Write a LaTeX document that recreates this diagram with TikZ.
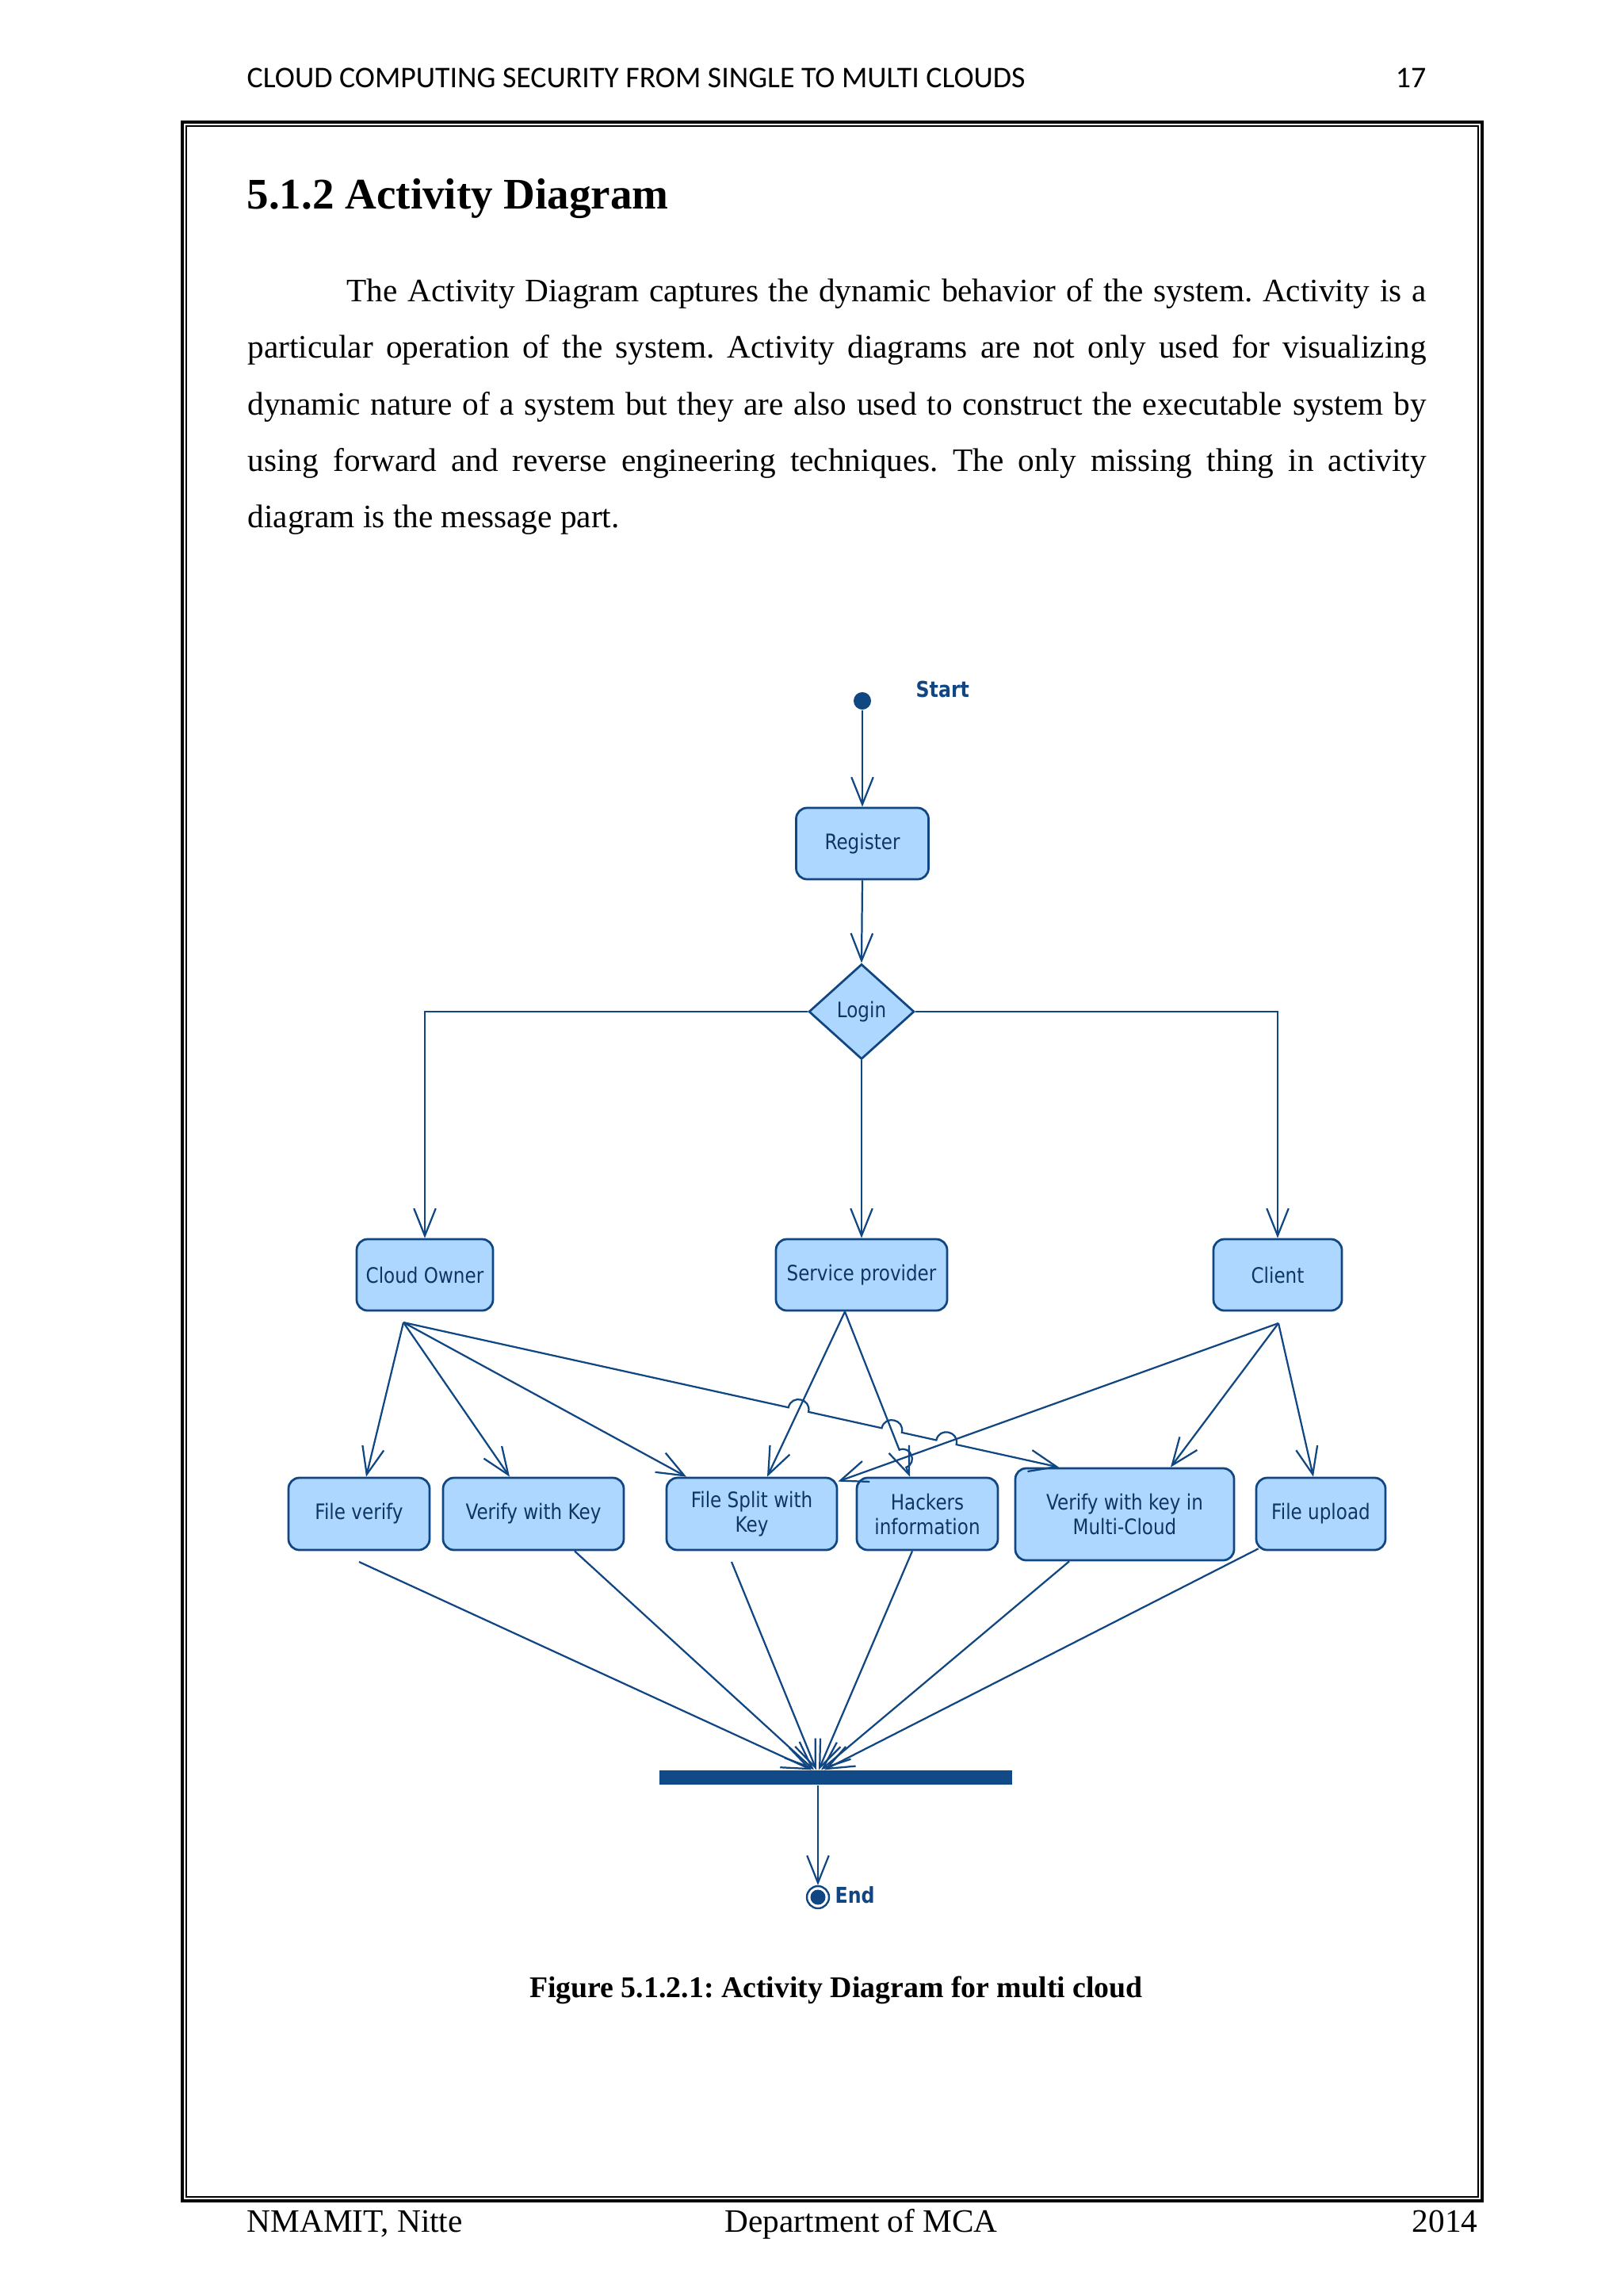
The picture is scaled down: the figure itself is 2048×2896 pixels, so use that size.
\documentclass[tikz,border=0pt]{standalone}
\usepackage{fontspec}
\setmainfont{Liberation Serif}
\newfontfamily\hdrfont{Carlito}
\newfontfamily\dgfont[FakeStretch=0.86]{DejaVu Sans}
\usetikzlibrary{arrows.meta,shapes.geometric,calc}
\definecolor{dkblue}{RGB}{16,70,130}
\definecolor{boxfill}{RGB}{174,215,255}
\definecolor{boxtext}{RGB}{16,52,100}
\definecolor{barblue}{RGB}{17,74,135}
\newcommand{\pxu}{0.29066pt}
\frenchspacing
\tikzset{
  act/.style={draw=dkblue, line width=0.8pt, fill=boxfill, rounded corners=4pt,
    text=boxtext, font=\dgfont\fontsize{7.8}{9}\selectfont, align=center,
    inner sep=0pt, minimum height=90*\pxu},
  flow/.style={draw=dkblue, line width=0.65pt, -{Straight Barb[length=10pt,width=8pt]}},
  plainline/.style={draw=dkblue, line width=0.65pt},
  txt/.style={inner sep=0pt},
  lbl/.style={inner sep=0pt, text=dkblue, font=\dgfont\bfseries\fontsize{8}{9}\selectfont},
  jump/.style={bend left=90, looseness=1.7}
}
\begin{document}
\begin{tikzpicture}[x=0.29066pt,y=-0.29066pt]
\useasboundingbox (0,0) rectangle (2048,2896);
\fill[white] (0,0) rectangle (2048,2896);

% page frame
\draw[line width=0.9pt] (230,154) rectangle (1870,2776);
\draw[line width=0.4pt] (235,159) rectangle (1865,2771);

% header and footer
\node[txt, anchor=base west, font=\hdrfont\fontsize{11}{13}\selectfont] (hdr) at (311,110) {CLOUD COMPUTING SECURITY FROM SINGLE TO MULTI CLOUDS};
\node[txt, anchor=base east, font=\hdrfont\fontsize{11}{13}\selectfont] (pg) at (1800,110) {17};
\node[txt, anchor=base west, font=\fontsize{12}{14}\selectfont] (f1) at (311,2815) {NMAMIT, Nitte};
\node[txt, anchor=base west, font=\fontsize{12}{14}\selectfont] (f2) at (914,2815) {Department of MCA};
\node[txt, anchor=base east, font=\fontsize{12}{14}\selectfont] (f3) at (1865,2815) {2014};

% title and paragraph
\node[txt, anchor=base west, font=\bfseries\fontsize{16}{19}\selectfont] (title) at (311,263) {5.1.2 Activity Diagram};
\node[txt, anchor=north west, text width=432.2pt, align=justify, font=\fontsize{12}{20.7}\selectfont] (para) at (312,349)
{\rule{0pt}{9pt}\hspace*{36.3pt}The Activity Diagram captures the dynamic behavior of the system. Activity is a\linebreak
particular operation of the system. Activity diagrams are not only used for visualizing\linebreak
dynamic nature of a system but they are also used to construct the executable system by\linebreak
using forward and reverse engineering techniques. The only missing thing in activity\linebreak
diagram is the message part.};

% caption
\node[txt, anchor=base, font=\bfseries\fontsize{11}{13}\selectfont] (cap) at (1055,2519) {Figure 5.1.2.1: Activity Diagram for multi cloud};

% ---- diagram ----
\node[circle, fill=dkblue, minimum size=22*\pxu, inner sep=0pt] (st) at (1088,884) {};
\node[lbl, anchor=base west] (stl) at (1155,879) {Start};

\node[act, minimum width=167*\pxu] (reg) at (1088,1064) {Register};
\node[diamond, draw=dkblue, fill=boxfill, line width=0.8pt, inner sep=0pt,
      minimum width=133*\pxu, minimum height=120*\pxu, text=boxtext,
      font=\dgfont\fontsize{7.8}{9}\selectfont] (login) at (1087,1276) {Login};

\node[act, minimum width=172*\pxu] (co) at (536,1608) {Cloud Owner};
\node[act, minimum width=216*\pxu] (sp) at (1087,1608) {Service provider};
\node[act, minimum width=162*\pxu] (cl) at (1612,1608) {Client};

\node[act, minimum width=178*\pxu, minimum height=91*\pxu] (fv) at (453,1909.5) {File verify};
\node[act, minimum width=228*\pxu, minimum height=91*\pxu] (vk) at (673,1909.5) {Verify with Key};
\node[act, minimum width=215*\pxu, minimum height=91*\pxu] (fs) at (948.5,1909.5) {File Split with\\Key};
\node[act, minimum width=178*\pxu, minimum height=91*\pxu] (hk) at (1170,1909.5) {Hackers\\information};
\node[act, minimum width=276*\pxu, minimum height=116*\pxu] (vm) at (1419,1910) {Verify with key in\\Multi-Cloud};
\node[act, minimum width=163*\pxu, minimum height=91*\pxu] (fu) at (1666.5,1909.5) {File upload};

\node[fill=barblue, minimum width=445*\pxu, minimum height=18*\pxu, inner sep=0pt] (bar) at (1054.5,2242) {};

\node[circle, draw=dkblue, line width=0.7pt, minimum size=28*\pxu, inner sep=0pt] (en) at (1032,2393) {};
\fill[dkblue] (en.center) circle (9.5);
\node[lbl, anchor=base west] (enl) at (1053,2400) {End};

% connectors top part
\draw[flow] (st) -- (reg.north);
\draw[flow] (reg.south) -- (login.north);
\draw[flow] (login.west) -| (co.north);
\draw[flow] (login.south) -- (sp.north);
\draw[flow] (login.east) -| (cl.north);

% sources and targets of the fan-out
\coordinate (coS) at (509,1668);
\coordinate (clS) at (1613,1669);
\coordinate (spS) at ($(sp.south)+(-21,0)$);
\coordinate (vmT) at ($(vm.north)+(-83,0)$);
\coordinate (hkT) at ($(hk.north)+(-22,0)$);

\draw[flow] (coS) -- ($(fv.north)+(9,0)$);
\draw[flow] (coS) -- ($(vk.north)+(-30,0)$);
\draw[flow] (coS) -- ($(fs.north)+(-82.5,0)$);
\draw[flow] (coS) -- ($(coS)!0.5874!(vmT)$) to[jump] ($(coS)!0.6180!(vmT)$)
  -- ($(coS)!0.7298!(vmT)$) to[jump] ($(coS)!0.7604!(vmT)$)
  -- ($(coS)!0.8130!(vmT)$) to[jump] ($(coS)!0.8436!(vmT)$) -- (vmT);

\draw[flow] (spS) -- ($(fs.north)+(19.5,0)$);
\draw[flow] (spS) -- ($(spS)!0.837!(hkT)$) to[jump] ($(spS)!0.943!(hkT)$) -- (hkT);

\draw[flow] (clS) -- ($(fs.north east)+(0,6)$);
\draw[flow] (clS) -- ($(vm.north)+(58,0)$);
\draw[flow] (clS) -- ($(fu.north)+(-9.5,0)$);

% fan-in to the synchronisation bar
\coordinate (fvS) at (453,1970);
\coordinate (fsS) at (923,1970);
\draw[flow] (fvS) -- ($(bar.north)+(-30.5,0)$);
\draw[flow] ($(vk.south)+(52,0)$) -- ($(bar.north)+(-27.5,0)$);
\draw[flow] (fsS) -- ($(bar.north)+(-24.5,0)$);
\draw[flow] ($(hk.south)+(-19,0)$) -- ($(bar.north)+(-21.5,0)$);
\draw[flow] ($(vm.south)+(-70,0)$) -- ($(bar.north)+(-18.5,0)$);
\draw[flow] ($(fu.south west)+(4,-3)$) -- ($(bar.north)+(-14.5,0)$);

\draw[flow] (en |- bar.south) -- (en.north);
\end{tikzpicture}
\end{document}
